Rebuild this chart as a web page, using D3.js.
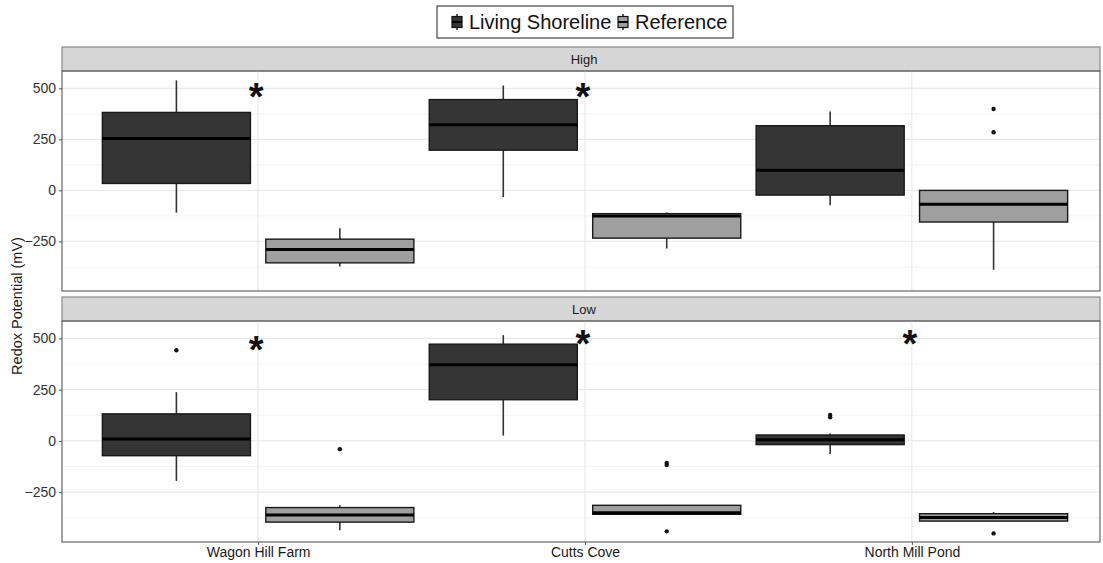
<!DOCTYPE html>
<html><head><meta charset="utf-8">
<script src="https://cdn.jsdelivr.net/npm/d3@7"></script>
<style>body{margin:0;background:#fff}svg{display:block;font-family:"Liberation Sans",Arial,sans-serif}</style>
</head><body><svg id="c" width="1103" height="563"></svg>
<script>
const sites = ["Wagon Hill Farm", "Cutts Cove", "North Mill Pond"];
const groups = ["Living Shoreline", "Reference"];
const zones = ["High", "Low"];
// [lower whisker, q1, median, q3, upper whisker] per site
const highLiving    = [[-109, 34, 254, 382, 539], [-33, 197, 322, 445, 514], [-73, -23, 99, 317, 387]];
const highReference = [[-373, -355, -290, -239, -186], [-285, -234, -125, -114, -108], [-389, -155, -68, 0, 0]];
const lowLiving     = [[-195, -72, 10, 132, 238], [26, 201, 372, 472, 516], [-64, -18, 6, 29, 36]];
const lowReference  = [[-436, -396, -361, -325, -314], [-360, -358, -350, -314, -312], [-391, -391, -373, -355, -347]];
const highLivingOut = [[], [], []];
const highReferenceOut = [[], [], [399, 285]];
const lowLivingOut  = [[442], [], [115, 127]];
const lowReferenceOut = [[-40], [-108, -118, -441], [-451]];
const sigHigh = ["*", "*", ""];
const sigLow = ["*", "*", "*"];
const sigValue = [490, 505];
const yTicks = [-250, 0, 250, 500];
const yMinor = [-375, -125, 125, 375];

const svg = d3.select("#c");
const L = 62, R = 1100;
const x = d3.scaleLinear().domain([0.4, 3.6]).range([L, 1108]);
const unit = x(1) - x(0);
const offsets = [-0.25, 0.25];
const boxW = 0.453 * unit;
const fills = ["#353535", "#9f9f9f"];

const panels = [
  {zone: zones[0], strip: [47, 71], range: [291, 71], data: [highLiving, highReference], out: [highLivingOut, highReferenceOut], sig: sigHigh, sigV: sigValue[0]},
  {zone: zones[1], strip: [297, 321], range: [542, 321], data: [lowLiving, lowReference], out: [lowLivingOut, lowReferenceOut], sig: sigLow, sigV: sigValue[1]}
];

panels.forEach(p => {
  const y = d3.scaleLinear().domain([-493, 585]).range(p.range);
  const g = svg.append("g");
  // strip
  g.append("rect").attr("x", L).attr("y", p.strip[0]).attr("width", R - L).attr("height", p.strip[1] - p.strip[0])
    .attr("fill", "#d6d6d6").attr("stroke", "#8a8a8a").attr("stroke-width", 1.2);
  g.append("text").attr("x", (L + R) / 2 + 3).attr("y", (p.strip[0] + p.strip[1]) / 2).attr("dy", "0.36em")
    .attr("text-anchor", "middle").attr("font-size", 13).attr("fill", "#1a1a1a").text(p.zone);
  // gridlines
  yMinor.forEach(v => g.append("line").attr("x1", L).attr("x2", R).attr("y1", y(v)).attr("y2", y(v)).attr("stroke", "#f4f4f4").attr("stroke-width", 1));
  yTicks.forEach(v => g.append("line").attr("x1", L).attr("x2", R).attr("y1", y(v)).attr("y2", y(v)).attr("stroke", "#e9e9e9").attr("stroke-width", 1.3));
  sites.forEach((s, i) => g.append("line").attr("x1", x(i + 1)).attr("x2", x(i + 1)).attr("y1", p.range[1]).attr("y2", p.range[0]).attr("stroke", "#ebebeb").attr("stroke-width", 1.3));
  // boxes
  p.data.forEach((series, gi) => {
    series.forEach((st, i) => {
      const cx = x(i + 1 + offsets[gi]);
      const bg = g.append("g");
      bg.append("line").attr("x1", cx).attr("x2", cx).attr("y1", y(st[4])).attr("y2", y(st[3])).attr("stroke", "#333").attr("stroke-width", 1.6);
      bg.append("line").attr("x1", cx).attr("x2", cx).attr("y1", y(st[1])).attr("y2", y(st[0])).attr("stroke", "#333").attr("stroke-width", 1.6);
      bg.append("rect").attr("x", cx - boxW / 2).attr("y", y(st[3])).attr("width", boxW).attr("height", Math.max(1, y(st[1]) - y(st[3])))
        .attr("fill", fills[gi]).attr("stroke", "#1a1a1a").attr("stroke-width", 1.4);
      bg.append("line").attr("x1", cx - boxW / 2).attr("x2", cx + boxW / 2).attr("y1", y(st[2])).attr("y2", y(st[2])).attr("stroke", "#000").attr("stroke-width", 3);
      p.out[gi][i].forEach(v => bg.append("circle").attr("cx", cx).attr("cy", y(v)).attr("r", 2.2).attr("fill", "#111"));
    });
  });
  // significance
  p.sig.forEach((t, i) => {
    if (!t) return;
    const sv = (p.zone === "Low" && i === 0) ? p.sigV - 25 : p.sigV;
    g.append("text").attr("x", x(i + 1) - 2).attr("y", y(sv) + 20).attr("text-anchor", "middle")
      .attr("font-size", 38).attr("font-weight", "bold").attr("fill", "#111").text(t);
  });
  // panel border
  g.append("rect").attr("x", L).attr("y", p.range[1]).attr("width", R - L).attr("height", p.range[0] - p.range[1])
    .attr("fill", "none").attr("stroke", "#666").attr("stroke-width", 1.2);
  // y axis
  const ax = g.append("g").attr("transform", `translate(${L},0)`).call(d3.axisLeft(y).tickValues(yTicks).tickSize(3).tickPadding(3));
  ax.select(".domain").remove();
  ax.selectAll("line").attr("stroke", "#555");
  ax.selectAll("text").attr("font-size", 14).attr("fill", "#333").attr("font-family", "Liberation Sans, Arial, sans-serif");
});

// x axis
const xa = svg.append("g").attr("transform", "translate(0,542)")
  .call(d3.axisBottom(x).tickValues([1, 2, 3]).tickFormat((d, i) => sites[i]).tickSize(3).tickPadding(2));
xa.select(".domain").remove();
xa.selectAll("line").attr("stroke", "#555");
xa.selectAll("text").attr("font-size", 14).attr("fill", "#1a1a1a").attr("font-family", "Liberation Sans, Arial, sans-serif");

// y title
svg.append("text").attr("transform", "translate(22,306) rotate(-90)").attr("text-anchor", "middle")
  .attr("font-size", 14.5).attr("fill", "#1a1a1a").text("Redox Potential (mV)");

// legend
const lg = svg.append("g");
lg.append("rect").attr("x", 437).attr("y", 6).attr("width", 296).attr("height", 32).attr("fill", "#fff").attr("stroke", "#444").attr("stroke-width", 1.2);
const items = [{x: 452, tx: 469}, {x: 618, tx: 635}];
groups.forEach((gname, i) => {
  const it = items[i];
  const k = lg.append("g");
  k.append("line").attr("x1", it.x + 5).attr("x2", it.x + 5).attr("y1", 14).attr("y2", 30).attr("stroke", "#222").attr("stroke-width", 1.5);
  k.append("rect").attr("x", it.x).attr("y", 16.5).attr("width", 10).attr("height", 11).attr("fill", fills[i]).attr("stroke", "#111").attr("stroke-width", 1.2);
  k.append("line").attr("x1", it.x).attr("x2", it.x + 10).attr("y1", 22).attr("y2", 22).attr("stroke", "#000").attr("stroke-width", 2);
  lg.append("text").attr("x", it.tx).attr("y", 22).attr("dy", "0.36em").attr("font-size", 20).attr("fill", "#111").text(gname);
});
</script></body></html>
